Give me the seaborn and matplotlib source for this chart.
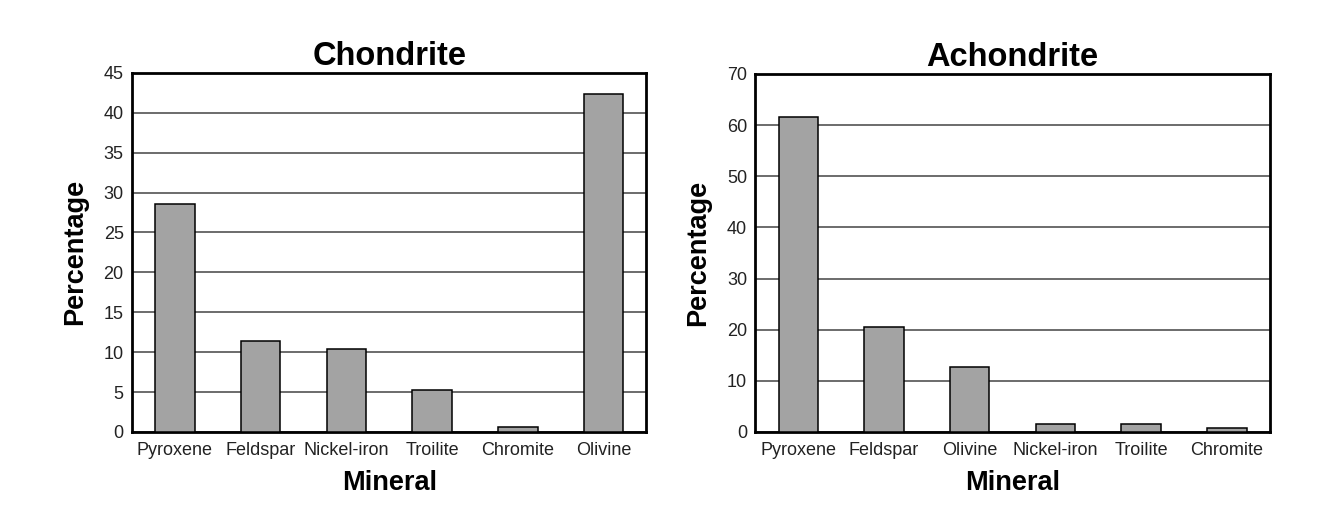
import matplotlib
matplotlib.use('Agg')
import matplotlib.pyplot as plt
import pandas as pd
import seaborn as sns

# Data
chondrite_minerals = ['Pyroxene', 'Feldspar', 'Nickel-iron', 'Troilite', 'Chromite', 'Olivine']
chondrite_pct = [28.6, 11.4, 10.4, 5.3, 0.6, 42.3]

achondrite_minerals = ['Pyroxene', 'Feldspar', 'Olivine', 'Nickel-iron', 'Troilite', 'Chromite']
achondrite_pct = [61.6, 20.6, 12.7, 1.6, 1.6, 0.7]

chondrite_ticks = [0, 5, 10, 15, 20, 25, 30, 35, 40, 45]
achondrite_ticks = [0, 10, 20, 30, 40, 50, 60, 70]

sns.set_style('white')
plt.rcParams['font.family'] = ['Liberation Sans', 'DejaVu Sans']
plt.rcParams['text.color'] = 'black'
plt.rcParams['axes.labelcolor'] = 'black'

fig = plt.figure(figsize=(13.43, 5.21), dpi=100)
ax1 = fig.add_axes([0.0983, 0.171, 0.383, 0.689])
ax2 = fig.add_axes([0.5625, 0.171, 0.383, 0.687])


def draw_panel(ax, minerals, values, ticks, title):
    df = pd.DataFrame({'Mineral': minerals, 'Percentage': values})
    sns.barplot(data=df, x='Mineral', y='Percentage', order=minerals, ax=ax,
                color='#a3a3a3', saturation=1, width=0.46,
                edgecolor='black', linewidth=1.1, zorder=3)
    ax.set_ylim(ticks[0], ticks[-1])
    ax.set_xlim(-0.5, len(minerals) - 0.5)
    ax.set_yticks(ticks)
    ax.yaxis.grid(True, color='#444444', linewidth=1.1, zorder=0)
    ax.set_axisbelow(True)
    for s in ax.spines.values():
        s.set_visible(True)
        s.set_color('black')
        s.set_linewidth(2)
    ax.tick_params(axis='both', length=0, labelsize=13, colors='#222222')
    ax.tick_params(axis='y', pad=6)
    ax.tick_params(axis='x', pad=7)
    ax.set_title(title, fontsize=23.5, fontweight='bold', pad=6, color='black')
    ax.set_xlabel('Mineral', fontsize=19.5, fontweight='bold', labelpad=8)
    ax.set_ylabel('Percentage', fontsize=19.5, fontweight='bold', labelpad=11)


draw_panel(ax1, chondrite_minerals, chondrite_pct, chondrite_ticks, 'Chondrite')
draw_panel(ax2, achondrite_minerals, achondrite_pct, achondrite_ticks, 'Achondrite')

fig.savefig('out.png', dpi=100)
